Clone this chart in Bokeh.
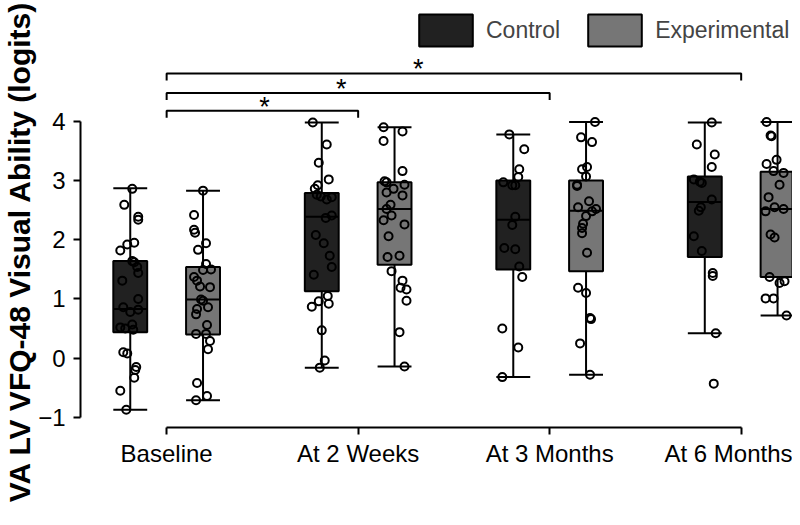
from bokeh.plotting import figure
from bokeh.models import Range1d, FixedTicker, Legend, LegendItem, ColumnDataSource, Title
from bokeh.core.properties import value
from bokeh.embed import file_html
from bokeh.resources import INLINE

# ---------------- data ----------------
timepoints = ["Baseline", "At 2 Weeks", "At 3 Months", "At 6 Months"]
groups = ["Control", "Experimental"]

ctrl_low = [-0.87, -0.16, -0.32, 0.42]
ctrl_q1 = [0.44, 1.13, 1.50, 1.71]
ctrl_med = [0.83, 2.39, 2.34, 2.64]
ctrl_q3 = [1.64, 2.79, 3.00, 3.07]
ctrl_high = [2.87, 3.98, 3.78, 3.98]

exp_low = [-0.71, -0.14, -0.28, 0.72]
exp_q1 = [0.40, 1.58, 1.47, 1.37]
exp_med = [0.99, 2.52, 2.49, 2.52]
exp_q3 = [1.54, 2.97, 3.00, 3.15]
exp_high = [2.83, 3.90, 3.99, 3.99]

ctrl_baseline = [2.86, 2.59, 2.39, 2.34, 1.95, 1.92, 1.82, 1.64, 1.62, 1.54, 1.44, 1.31, 1.00, 0.86,
                 0.82, 0.78, 0.57, 0.52, 0.50, 0.48, 0.10, 0.08, -0.15, -0.20, -0.33, -0.55, -0.87]
ctrl_baseline_jit = [2, -6, 8, 8, 4, -3, -10, 2, 4, 7, 8, -8, 8, -7, 8, 0, 2, -10, -5, 3, -7, -3, 6, 5, 4, -10, -4]

exp_baseline = [2.83, 2.42, 2.17, 2.12, 1.94, 1.83, 1.59, 1.49, 1.50, 1.37, 1.31, 1.21, 1.20, 0.99, 0.97,
                0.83, 0.86, 0.74, 0.56, 0.41, 0.41, 0.29, 0.15, -0.42, -0.64, -0.71]
exp_baseline_jit = [0, -9, -9, -8, 3, -5, 3, 0, 8, -9, -6, -3, 7, -2, 0, -6, 5, -7, 4, -7, 3, 7, 5, -6, 4, -7]

ctrl_2wk = [3.98, 3.61, 3.30, 3.02, 2.92, 2.86, 2.76, 2.73, 2.68, 2.72, 2.37, 2.41, 2.08, 1.94, 1.73, 1.54,
            1.41, 1.05, 0.96, 0.87, 0.92, 0.47, -0.04, -0.16]
ctrl_2wk_jit = [-9, 5, -3, 7, -4, -7, -5, -1, 5, 10, 4, 10, -6, 2, 8, 10, -8, 6, -3, -10, 7, 0, 3, -2]

exp_2wk = [3.90, 3.83, 3.67, 3.16, 2.99, 2.97, 2.86, 2.93, 2.80, 2.75, 2.52, 2.59, 2.41, 2.33, 2.26, 2.06,
           1.71, 1.73, 1.47, 1.31, 1.19, 1.16, 0.97, 0.44, -0.14]
exp_2wk_jit = [-11, 8, -11, 8, -10, -8, -1, 10, -8, 8, -8, -4, -3, -11, 10, -6, -7, 5, -3, 8, 6, 12, 12, 5, 10]

ctrl_3mo = [3.78, 3.53, 3.19, 3.06, 2.97, 2.92, 2.92, 2.39, 2.25, 1.86, 1.84, 1.55, 1.37, 0.50, 0.18, -0.32]
ctrl_3mo_jit = [-4, 11, 6, 5, -10, -1, 2, 2, -1, -9, 2, 6, 9, -11, 5, -11]

exp_3mo = [3.99, 3.73, 3.65, 3.23, 3.19, 3.07, 2.93, 2.91, 2.65, 2.55, 2.52, 2.48, 2.40, 2.27, 2.20, 2.11,
           1.78, 1.19, 1.10, 0.68, 0.66, 0.25, -0.28]
exp_3mo_jit = [9, -5, 6, 1, -4, 0, -9, -9, 3, -8, 10, 6, 0, -3, -4, -4, 1, -8, 0, 4, 5, -6, 4]

ctrl_6mo = [3.98, 3.61, 3.44, 3.23, 3.02, 2.98, 2.96, 2.68, 2.55, 2.49, 2.06, 1.81, 1.44, 1.39, 0.42, -0.43]
ctrl_6mo_jit = [7, -8, 10, 7, -11, -5, -3, 7, -4, -6, -11, -3, 8, 8, 11, 9]

exp_6mo = [3.99, 3.76, 3.75, 3.35, 3.28, 3.16, 3.13, 2.93, 2.72, 2.55, 2.52, 2.48, 2.09, 2.04, 1.37, 1.27,
           1.30, 1.01, 1.01, 0.72]
exp_6mo_jit = [-11, -7, -6, -1, -11, -4, 6, 2, -9, -3, 6, -12, -7, -3, -8, 2, 7, -12, -4, 9]

ctrl_points = [ctrl_baseline, ctrl_2wk, ctrl_3mo, ctrl_6mo]
ctrl_jitter = [ctrl_baseline_jit, ctrl_2wk_jit, ctrl_3mo_jit, ctrl_6mo_jit]
exp_points = [exp_baseline, exp_2wk, exp_3mo, exp_6mo]
exp_jitter = [exp_baseline_jit, exp_2wk_jit, exp_3mo_jit, exp_6mo_jit]

# significance brackets (from index, to index, level) and star label
sig_from = [0, 0, 0]
sig_to = [1, 2, 3]
sig_level = [4.18, 4.48, 4.81]
sig_text = ["*", "*", "*"]

y_title = "VA LV VFQ-48 Visual Ability (logits)"

# ---------------- styling / layout ----------------
FONT = "Liberation Sans"
CTRL_COLOR = "#212121"
EXP_COLOR = "#767676"
OFFSET = 0.19
BOX_W = 0.177
JIT_UNIT = BOX_W / 34.0
DROP = 0.12
STAR_FRAC = [0.511, 0.456, 0.438]

p = figure(width=792, height=509, output_backend="svg", toolbar_location=None,
           x_range=Range1d(-0.4498, 3.268), y_range=Range1d(-1.171, 6.042),
           min_border_left=77, min_border_right=0, min_border_top=0, min_border_bottom=82)
p.outline_line_color = None
p.xgrid.visible = False
p.ygrid.visible = False
p.background_fill_color = "white"

idx = list(range(len(timepoints)))


def draw_group(offset, low, q1, med, q3, high, color, pts, jit):
    xs = [i + offset for i in idx]
    src = ColumnDataSource(dict(x=xs, x0=[x - BOX_W / 2 for x in xs], x1=[x + BOX_W / 2 for x in xs],
                                low=low, q1=q1, med=med, q3=q3, high=high))
    p.segment(x0="x", y0="low", x1="x", y1="high", source=src, line_color="black", line_width=2)
    p.segment(x0="x0", y0="low", x1="x1", y1="low", source=src, line_color="black", line_width=2)
    p.segment(x0="x0", y0="high", x1="x1", y1="high", source=src, line_color="black", line_width=2)
    r = p.vbar(x="x", width=BOX_W, bottom="q1", top="q3", source=src, fill_color=color,
               line_color="black", line_width=2)
    p.segment(x0="x0", y0="med", x1="x1", y1="med", source=src, line_color="black", line_width=2)
    px, py = [], []
    for i, (vals, js) in enumerate(zip(pts, jit)):
        for v, j in zip(vals, js):
            px.append(xs[i] + j * JIT_UNIT)
            py.append(v)
    p.scatter(px, py, marker="circle", size=8, fill_alpha=0, line_color="black", line_width=2)
    return r


r_ctrl = draw_group(-OFFSET, ctrl_low, ctrl_q1, ctrl_med, ctrl_q3, ctrl_high, CTRL_COLOR, ctrl_points, ctrl_jitter)
r_exp = draw_group(OFFSET, exp_low, exp_q1, exp_med, exp_q3, exp_high, EXP_COLOR, exp_points, exp_jitter)

# brackets
bx, by, sx, sy = [], [], [], []
for a, b, lv, f in zip(sig_from, sig_to, sig_level, STAR_FRAC):
    bx.append([a, a, b, b])
    by.append([lv - DROP, lv, lv, lv - DROP])
    sx.append(a + f * (b - a))
    sy.append(lv)
p.multi_line(bx, by, line_color="black", line_width=2)
p.text(x=sx, y=sy, text=sig_text, text_font=value(FONT), text_font_size="27px",
       text_align="center", text_baseline="middle", y_offset=-4, text_color="black")

# axes
xa = p.xaxis[0]
xa.ticker = FixedTicker(ticks=idx)
xa.major_label_overrides = {i: t for i, t in zip(idx, timepoints)}
xa.bounds = (0, len(timepoints) - 1)
xa.axis_line_width = 2
xa.major_tick_line_width = 2
xa.major_tick_in = 0
xa.major_tick_out = 7
xa.minor_tick_line_color = None
xa.major_label_standoff = 5
xa.major_label_text_font = FONT
xa.major_label_text_font_size = "24px"
xa.major_label_text_color = "black"
xa.axis_line_color = "black"

ya = p.yaxis[0]
ya.ticker = FixedTicker(ticks=[-1, 0, 1, 2, 3, 4])
ya.bounds = (-1, 4)
ya.axis_line_width = 2
ya.major_tick_line_width = 2
ya.major_tick_in = 0
ya.major_tick_out = 7
ya.minor_tick_line_color = None
ya.major_label_standoff = 8
ya.major_label_text_font = FONT
ya.major_label_text_font_size = "24px"
ya.major_label_text_color = "black"
ya.axis_line_color = "black"

p.add_layout(Title(text=y_title, text_font=FONT, text_font_size="30px", text_font_style="bold",
                   text_color="black", align="right", standoff=0), "left")

legend = Legend(items=[LegendItem(label=groups[0], renderers=[r_ctrl]),
                       LegendItem(label=groups[1], renderers=[r_exp])],
                orientation="horizontal", location=(332, 377), glyph_width=67, glyph_height=40,
                label_standoff=7, spacing=21, padding=0, margin=0, border_line_color=None,
                background_fill_alpha=0, label_text_font=FONT, label_text_font_size="23px")
p.add_layout(legend)

open("out.html", "w").write(file_html(p, INLINE))
